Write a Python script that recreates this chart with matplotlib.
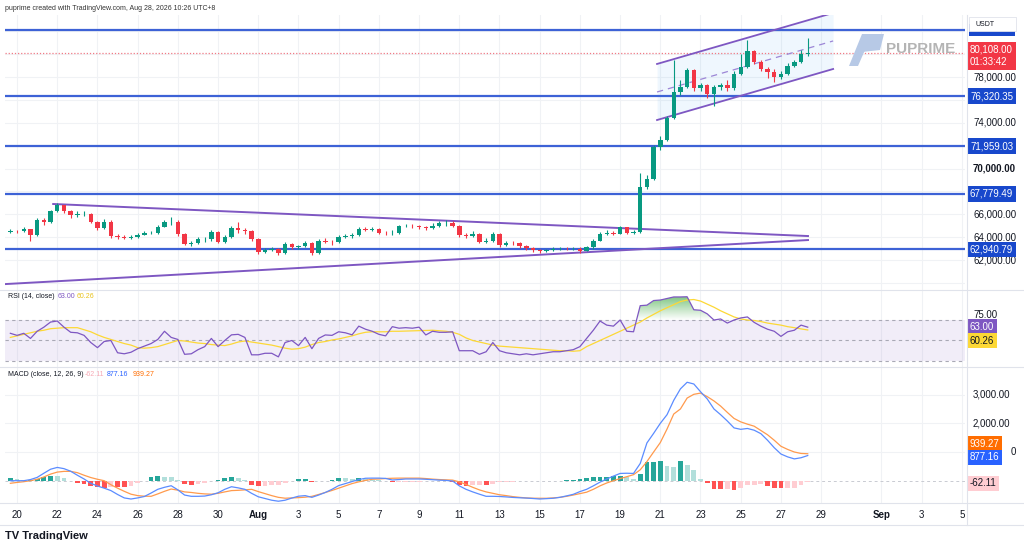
import numpy as np
import matplotlib
matplotlib.use("Agg")
import matplotlib.pyplot as plt
from matplotlib import transforms
from matplotlib.path import Path
from matplotlib.patches import Polygon, Rectangle
from matplotlib.lines import Line2D

plt.rcParams['font.family'] = ['Liberation Sans', 'DejaVu Sans']

# 8h candles, day 0 = Jul 20, first candle at day -0.33
first_open = 64450
closes = [64550, 64500, 64700, 64200, 65500, 65300, 66300, 66800, 66300, 65900,
          66000, 66050, 65300, 64800, 65300, 64100, 64000, 63950, 64000, 64200,
          64350, 64400, 64900, 65300, 65350, 64300, 63400, 63500, 63800, 63800,
          64450, 63600, 64000, 64800, 64600, 64500, 63800, 62700, 62900, 62950,
          62600, 63400, 63100, 63200, 63500, 62600, 63700, 63600, 63550, 64000,
          64100, 64200, 64700, 64650, 64700, 64400, 64350, 64400, 64950, 65000,
          64950, 64900, 64800, 65000, 65200, 65250, 65000, 64200, 64100, 64300,
          63600, 63700, 64300, 63300, 63500, 63450, 63200, 63050, 62850, 62800,
          62850, 62950, 63000, 62950, 63000, 62800, 63100, 63700, 64300, 64400,
          64300, 64850, 64400, 64450, 68400, 69100, 71900, 72500, 74400, 76700,
          77100, 78600, 77000, 77300, 76500, 77100, 77300, 77000, 78300, 78900,
          80300, 79300, 78700, 78400, 78000, 78300, 79000, 79300, 80000, 80108]
highs = [64700, 64650, 64850, 64750, 65700, 65650, 66400, 66950, 66850, 66400,
         66250, 66300, 66100, 65400, 65600, 65500, 64250, 64150, 64200, 64350,
         64500, 64550, 65050, 65500, 65800, 65500, 64400, 63700, 64050, 64000,
         64650, 64550, 64200, 65000, 65300, 64800, 64600, 63900, 63050, 63100,
         63050, 63550, 63500, 63350, 63650, 63550, 63850, 63900, 63750, 64200,
         64300, 64400, 64850, 64850, 64900, 64800, 64550, 64600, 65100, 65150,
         65150, 65100, 65000, 65200, 65450, 65500, 65400, 65100, 64350, 64500,
         64400, 63900, 64450, 64400, 63700, 63650, 63550, 63300, 63150, 62950,
         63000, 63100, 63150, 63100, 63150, 63100, 63250, 63850, 64450, 64600,
         64550, 65000, 64900, 64600, 69600, 69400, 72100, 72800, 74600, 79500,
         77700, 78800, 78700, 77500, 77400, 77300, 77500, 77700, 78500, 80000,
         81200, 80400, 79500, 78900, 78700, 78500, 79200, 79500, 80400, 81400]
lows = [64350, 64350, 64450, 63700, 64100, 65100, 65200, 66200, 66100, 65700,
        65800, 65850, 65200, 64600, 64700, 63900, 63800, 63800, 63850, 63950,
        64150, 64250, 64300, 64850, 65100, 64100, 63300, 63250, 63400, 63600,
        63700, 63450, 63500, 63900, 64400, 64300, 63650, 62500, 62650, 62800,
        62400, 62550, 62950, 63000, 63100, 62450, 62550, 63450, 63350, 63450,
        63900, 63950, 64100, 64500, 64550, 64250, 64200, 64200, 64300, 64850,
        64800, 64750, 64650, 64700, 64900, 65000, 64850, 64050, 63950, 64000,
        63450, 63500, 63600, 63150, 63200, 63300, 63050, 62900, 62700, 62600,
        62700, 62800, 62850, 62850, 62850, 62650, 62750, 63000, 63650, 64200,
        64150, 64250, 64250, 64300, 64350, 68200, 69000, 71600, 72400, 74300,
        76400, 77000, 76800, 76800, 76200, 75500, 76900, 76800, 76900, 78200,
        78800, 79100, 78500, 77900, 77600, 77800, 78200, 78900, 79200, 79800]

# indicators on the same 8h grid
rsi = [57, 55, 57, 52, 59, 63, 68, 69, 63, 58, 57.5, 55, 48, 43, 49, 50, 38, 37, 38.5, 42,
       44.5, 47, 51, 59, 53, 51, 36.5, 37, 41, 44, 52, 44, 50, 55.5, 56, 53, 36, 36, 37.5, 37.5,
       34, 48, 50, 45, 53, 42, 52, 55.4, 55, 58.5, 57.5, 55.5, 64, 61, 59, 56, 54.5, 63.5, 62, 62.5,
       62, 63, 55.4, 59, 58, 58, 58.5, 40, 40, 40, 36.5, 39, 48, 40, 38, 37, 36, 37, 36, 37,
       38, 39, 39, 40, 41, 44, 52, 60, 69, 65, 64, 70, 59, 58.5, 84, 84.5, 89, 89.5, 91, 92.5,
       92.5, 92.7, 80, 79.5, 76, 70, 71, 67, 70, 72, 73, 67.7, 64, 61, 59, 54, 58.5, 60, 65, 63]
rsi_ma = [53, 54.5, 56, 57.5, 59, 60, 61.5, 62, 62.5, 62.5, 62.5, 60.5, 58.5, 55.5, 53, 51, 49, 47, 45.5, 43,
          42.5, 43, 44, 46, 48, 50, 49.5, 48.5, 47.5, 47, 46, 45.5, 45, 46.5, 48.5, 49.5, 48.5, 47.5, 46.5, 45.5,
          44, 42.5, 41.5, 42, 43.5, 46, 48, 49, 50.5, 51.5, 53, 54.5, 56.5, 58, 58.5, 58.5, 58.5, 59, 59, 59.2,
          59.4, 59.6, 59.8, 60, 59.5, 59, 58, 56, 52.5, 50, 48.5, 47, 45.5, 44.5, 44, 43.5, 43, 42.5, 42, 41.5,
          41, 40.5, 40, 40, 39.5, 40, 44, 47, 50, 53, 56, 59, 62, 65, 68, 72, 75.5, 79, 82, 85,
          88, 89.5, 90, 88.5, 85.5, 82.5, 79, 76, 73, 71, 70, 69.5, 68.5, 67, 66, 65, 63.5, 62.5, 61.3, 60.26]
macd = [0, 0, 0, 40, 115, 260, 400, 463, 420, 330, 190, 60, -90, -185, -260, -344, -480, -600, -638, -600,
        -550, -430, -300, -230, -175, -320, -500, -544, -544, -535, -490, -420, -300, -210, -250, -300, -440, -560, -620, -680,
        -715, -680, -605, -540, -520, -580, -500, -410, -300, -170, -100, -30, 40, 85, 90, 90, 80, 25, 40, 60,
        60, 60, 50, 35, 20, 10, -10, -180, -300, -390, -470, -544, -544, -550, -565, -583, -595, -605, -620, -638,
        -625, -612, -580, -530, -475, -380, -300, -180, -50, 60, 160, 253, 260, 253, 600, 1316, 1650, 2000, 2300, 2800,
        3200, 3430, 3370, 3100, 2850, 2500, 2300, 2080, 1840, 1790, 1820, 1760, 1640, 1410, 1150, 930, 830, 760, 800, 877.16]
signal = [-90, -60, -35, 0, 50, 130, 230, 300, 325, 325, 280, 190, 110, 50, 0, -140, -260, -370, -470, -520,
          -540, -544, -460, -370, -290, -330, -390, -410, -440, -460, -470, -440, -390, -345, -335, -320, -300, -380, -450, -520,
          -580, -610, -600, -590, -575, -545, -480, -410, -340, -260, -180, -100, -40, 10, 50, 60, 75, 85, 90, 90,
          90, 90, 75, 55, 40, 30, 20, -40, -130, -230, -320, -390, -440, -490, -520, -555, -580, -600, -610, -612,
          -612, -600, -580, -545, -500, -450, -400, -300, -180, -80, 0, 74, 140, 210, 380, 667, 1000, 1330, 1800, 2323,
          2500, 2880, 3010, 3053, 2930, 2780, 2600, 2380, 2170, 2050, 1970, 1900, 1750, 1600, 1410, 1200, 1090, 1000, 950, 939.27]

top_level = 82108.00   # its axis tag sits under the USDT box
levels = [76320.35, 71959.03, 67779.49, 62940.79]
level_labels = ["76,320.35", "71,959.03", "67,779.49", "62,940.79"]
last_price = 80108.00

tri_top_x, tri_top_y = [1.8, 39.35], [66900, 64100]
tri_bot_x, tri_bot_y = [-0.6, 39.35], [59900, 63750]
chan_x = [31.84, 40.6]
chan_upper = [79140, 83600]
chan_mid = [76690, 81150]
chan_lower = [74240, 78700]

tick_days = [0, 2, 4, 6, 8, 10, 12, 14, 16, 18, 20, 22, 24, 26, 28, 30, 32, 34, 36, 38, 40, 43, 45, 47]
tick_labels = ["20", "22", "24", "26", "28", "30", "Aug", "3", "5", "7", "9", "11", "13", "15", "17",
               "19", "21", "23", "25", "27", "29", "Sep", "3", "5"]
price_ticks = [62000, 64000, 66000, 70000, 74000, 78000]
macd_ticks = [2000, 3000]

GREEN, RED = "#089981", "#F23645"
LEVEL_C, LEVEL_BOX = "#3D62D6", "#1848CC"
PURPLE = "#7E57C2"
GRID = "#F0F2F5"

W, H = 1024, 540
fig = plt.figure(figsize=(W / 100, H / 100), dpi=100)
fig.patch.set_facecolor("white")


def rect(x0, y0, x1, y1):
    return [x0 / W, 1 - y1 / H, (x1 - x0) / W, (y1 - y0) / H]


ax = fig.add_axes(rect(5, 15, 965, 290))
ax_rsi = fig.add_axes(rect(5, 290, 965, 367))
ax_macd = fig.add_axes(rect(5, 367, 965, 503))

XMIN, XMAX = -0.597, 47.16
for a in (ax, ax_rsi, ax_macd):
    a.set_xlim(XMIN, XMAX)
    for s in a.spines.values():
        s.set_visible(False)
    a.set_xticks([])
    a.set_yticks([])
    for d in tick_days:
        a.axvline(d, color=GRID, lw=0.8, zorder=0)

t = -0.33 + np.arange(len(closes)) / 3.0
closes = np.array(closes, float)
opens = np.concatenate([[first_open], closes[:-1]])

# ---- main price pane
ax.set_ylim(59384, 83419)
for p in range(60000, 84000, 2000):
    ax.axhline(p, color=GRID, lw=0.8, zorder=0)

# channel fill + lines
ax.fill_between(chan_x, chan_lower, chan_upper, color="#2196F3", alpha=0.07, lw=0, zorder=1)
ax.plot(chan_x, chan_upper, color=PURPLE, lw=1.3, zorder=4)
ax.plot(chan_x, chan_lower, color=PURPLE, lw=1.3, zorder=4)
ax.plot(chan_x, chan_mid, color="#9C86D6", lw=0.9, ls=(0, (5, 4)), zorder=4)

ax.plot(tri_top_x, tri_top_y, color=PURPLE, lw=1.4, zorder=4)
ax.plot(tri_bot_x, tri_bot_y, color=PURPLE, lw=1.4, zorder=4)

for lv in [top_level] + levels:
    ax.axhline(lv, color=LEVEL_C, lw=1.6, zorder=3)

ax.axhline(last_price, color="#F07A85", lw=0.9, ls=(0, (1, 1.5)), zorder=2)

colors = [GREEN if c >= o else RED for o, c in zip(opens, closes)]
ax.vlines(t, lows, highs, colors=colors, lw=0.8, zorder=5)
ax.bar(t, closes - opens, bottom=opens, width=0.22, color=colors, lw=0, zorder=6)

# watermark
fig.patches.append(Polygon([(868 / W, 1 - 34 / H), (884 / W, 1 - 34 / H), (880 / W, 1 - 50 / H), (862 / W, 1 - 52 / H)],
                           transform=fig.transFigure, fc="#B7C9E6", ec="none"))
fig.patches.append(Polygon([(862 / W, 1 - 34 / H), (872 / W, 1 - 34 / H), (858 / W, 1 - 66 / H), (849 / W, 1 - 66 / H)],
                           transform=fig.transFigure, fc="#B7C9E6", ec="none"))
fig.text(886 / W, 1 - 49 / H, "PUPRIME", fontsize=11, fontweight="bold", color="#B4B4B4", va="center")

# right price axis
tr = transforms.blended_transform_factory(fig.transFigure, ax.transData)
for p in price_ticks:
    ax.text(973 / W, p, f"{p:,.2f}", transform=tr, fontsize=7, color="#131722",
            va="center", fontweight="bold" if p == 70000 else "normal", zorder=10)
for lv, lab in zip(levels, level_labels):
    ax.text(970 / W, lv, lab, transform=tr, fontsize=7, color="white", va="center", zorder=12,
            bbox=dict(boxstyle="square,pad=0.28", fc=LEVEL_BOX, ec="none"))
ax.text(970 / W, last_price - 250, "80,108.00\n01:33:42", transform=tr, fontsize=7, color="white",
        va="center", linespacing=1.3, zorder=12,
        bbox=dict(boxstyle="square,pad=0.3", fc=RED, ec="none"))
# tag of the top level, mostly hidden by the USDT box
fig.add_artist(Rectangle((969 / W, 1 - 36 / H), 46 / W, 12 / H, transform=fig.transFigure,
                         fc=LEVEL_BOX, ec="none", zorder=29))
fig.add_artist(Rectangle((969 / W, 1 - 31 / H), 47 / W, 14 / H, transform=fig.transFigure,
                         fc="white", ec="#E0E3EB", lw=0.6, zorder=30))
fig.text(975 / W, 1 - 24 / H, "USDT", fontsize=5, color="#131722", va="center", zorder=31)

# ---- RSI pane
rsi = np.array(rsi, float)
ax_rsi.set_ylim(24.1, 99.3)
ax_rsi.axhspan(30, 70, color=PURPLE, alpha=0.1, lw=0, zorder=0)
for lv in (70, 50, 30):
    ax_rsi.axhline(lv, color="#A9A9B5", lw=0.8, ls=(0, (3, 3)), zorder=1)
poly = ax_rsi.fill_between(t, rsi, 70, where=rsi > 70, interpolate=True, color="none", lw=0)
grad = np.zeros((100, 1, 4))
grad[:, 0, 0], grad[:, 0, 1], grad[:, 0, 2] = 0.30, 0.69, 0.31
grad[:, 0, 3] = np.linspace(0.0, 0.75, 100)
im = ax_rsi.imshow(grad, extent=[XMIN, XMAX, 70, 94], origin="lower", aspect="auto", zorder=1)
paths = poly.get_paths()
if paths:
    im.set_clip_path(Path.make_compound_path(*paths), transform=ax_rsi.transData)
ax_rsi.set_xlim(XMIN, XMAX)
ax_rsi.set_ylim(24.1, 99.3)
ax_rsi.plot(t, rsi_ma, color="#FDD835", lw=0.9, zorder=3)
ax_rsi.plot(t, rsi, color=PURPLE, lw=0.9, zorder=4)

# axis labels pushed apart the way the chart stacks them
tr_r = transforms.blended_transform_factory(fig.transFigure, fig.transFigure)
ax_rsi.text(973 / W, 1 - 315 / H, "75.00", transform=tr_r, fontsize=7, color="#131722", va="center")
ax_rsi.text(970 / W, 1 - 327 / H, "63.00", transform=tr_r, fontsize=7, color="white", va="center", zorder=12,
            bbox=dict(boxstyle="square,pad=0.28", fc=PURPLE, ec="none"))
ax_rsi.text(970 / W, 1 - 340.5 / H, "60.26", transform=tr_r, fontsize=7, color="#131722", va="center", zorder=12,
            bbox=dict(boxstyle="square,pad=0.28", fc="#FDD835", ec="none"))

fig.text(8 / W, 1 - 297 / H, "RSI (14, close)", fontsize=5, color="#131722", va="center")
fig.text(58 / W, 1 - 297 / H, "63.00", fontsize=5, color=PURPLE, va="center")
fig.text(77 / W, 1 - 297 / H, "60.26", fontsize=5, color="#E8C21A", va="center")

# ---- MACD pane
macd = np.array(macd, float)
signal = np.array(signal, float)
hist = macd - signal
ax_macd.set_ylim(-777, 3962)
for v in (1000, 2000, 3000):
    ax_macd.axhline(v, color=GRID, lw=0.8, zorder=0)
ax_macd.axhline(0, color="#C9CBD2", lw=0.7, ls=(0, (3, 3)), zorder=1)
hcols = []
for i, h in enumerate(hist):
    prev = hist[i - 1] if i > 0 else h
    if h >= 0:
        hcols.append("#26A69A" if h >= prev else "#B2DFDB")
    else:
        hcols.append("#FFCDD2" if h >= prev else "#FF5252")
ax_macd.bar(t, hist, width=0.24, color=hcols, lw=0, zorder=2)
ax_macd.plot(t, signal, color="#FF9A4D", lw=0.9, zorder=3)
ax_macd.plot(t, macd, color="#5B8CFF", lw=0.9, zorder=4)

tr_m = transforms.blended_transform_factory(fig.transFigure, ax_macd.transData)
for v in macd_ticks:
    ax_macd.text(973 / W, v, f"{v:,.2f}", transform=tr_m, fontsize=7, color="#131722", va="center", zorder=10)
ax_macd.text(1011 / W, 1000, "0", transform=tr_m, fontsize=7, color="#131722", va="center", zorder=10)
ax_macd.text(970 / W, 1 - 444 / H, "939.27", transform=tr_r, fontsize=7, color="white", va="center",
             zorder=12, bbox=dict(boxstyle="square,pad=0.28", fc="#FF6D00", ec="none"))
ax_macd.text(970 / W, 1 - 457.5 / H, "877.16", transform=tr_r, fontsize=7, color="white", va="center",
             zorder=12, bbox=dict(boxstyle="square,pad=0.28", fc="#2962FF", ec="none"))
ax_macd.text(970 / W, 1 - 483.5 / H, "-62.11", transform=tr_r, fontsize=7, color="#131722", va="center",
             zorder=12, bbox=dict(boxstyle="square,pad=0.28", fc="#FFCDD2", ec="none"))

fig.text(8 / W, 1 - 375 / H, "MACD (close, 12, 26, 9)", fontsize=5, color="#131722", va="center")
fig.text(85 / W, 1 - 375 / H, "-62.11", fontsize=5, color="#F7A9B5", va="center")
fig.text(107 / W, 1 - 375 / H, "877.16", fontsize=5, color="#2962FF", va="center")
fig.text(133 / W, 1 - 375 / H, "939.27", fontsize=5, color="#FF6D00", va="center")

# ---- time axis
tr_x = transforms.blended_transform_factory(ax_macd.transData, fig.transFigure)
for d, lab in zip(tick_days, tick_labels):
    ax_macd.text(d, 1 - 515 / H, lab, transform=tr_x, fontsize=7, color="#131722", ha="center", va="center",
                 fontweight="bold" if lab in ("Aug", "Sep") else "normal")

# separators
for y in (290, 367, 503, 525):
    fig.add_artist(Line2D([0, 1], [1 - y / H, 1 - y / H], color="#E0E3EB", lw=0.8))
fig.add_artist(Line2D([967 / W, 967 / W], [1 - 525 / H, 1 - 15 / H], color="#E0E3EB", lw=0.8))

fig.text(5 / W, 1 - 8 / H, "puprime created with TradingView.com, Aug 28, 2026 10:26 UTC+8",
         fontsize=5, color="#333333", va="center")
fig.text(5 / W, 1 - 536 / H, "TV TradingView", fontsize=8, fontweight="bold", color="#131722", va="center")

fig.savefig("out.png", dpi=100)
